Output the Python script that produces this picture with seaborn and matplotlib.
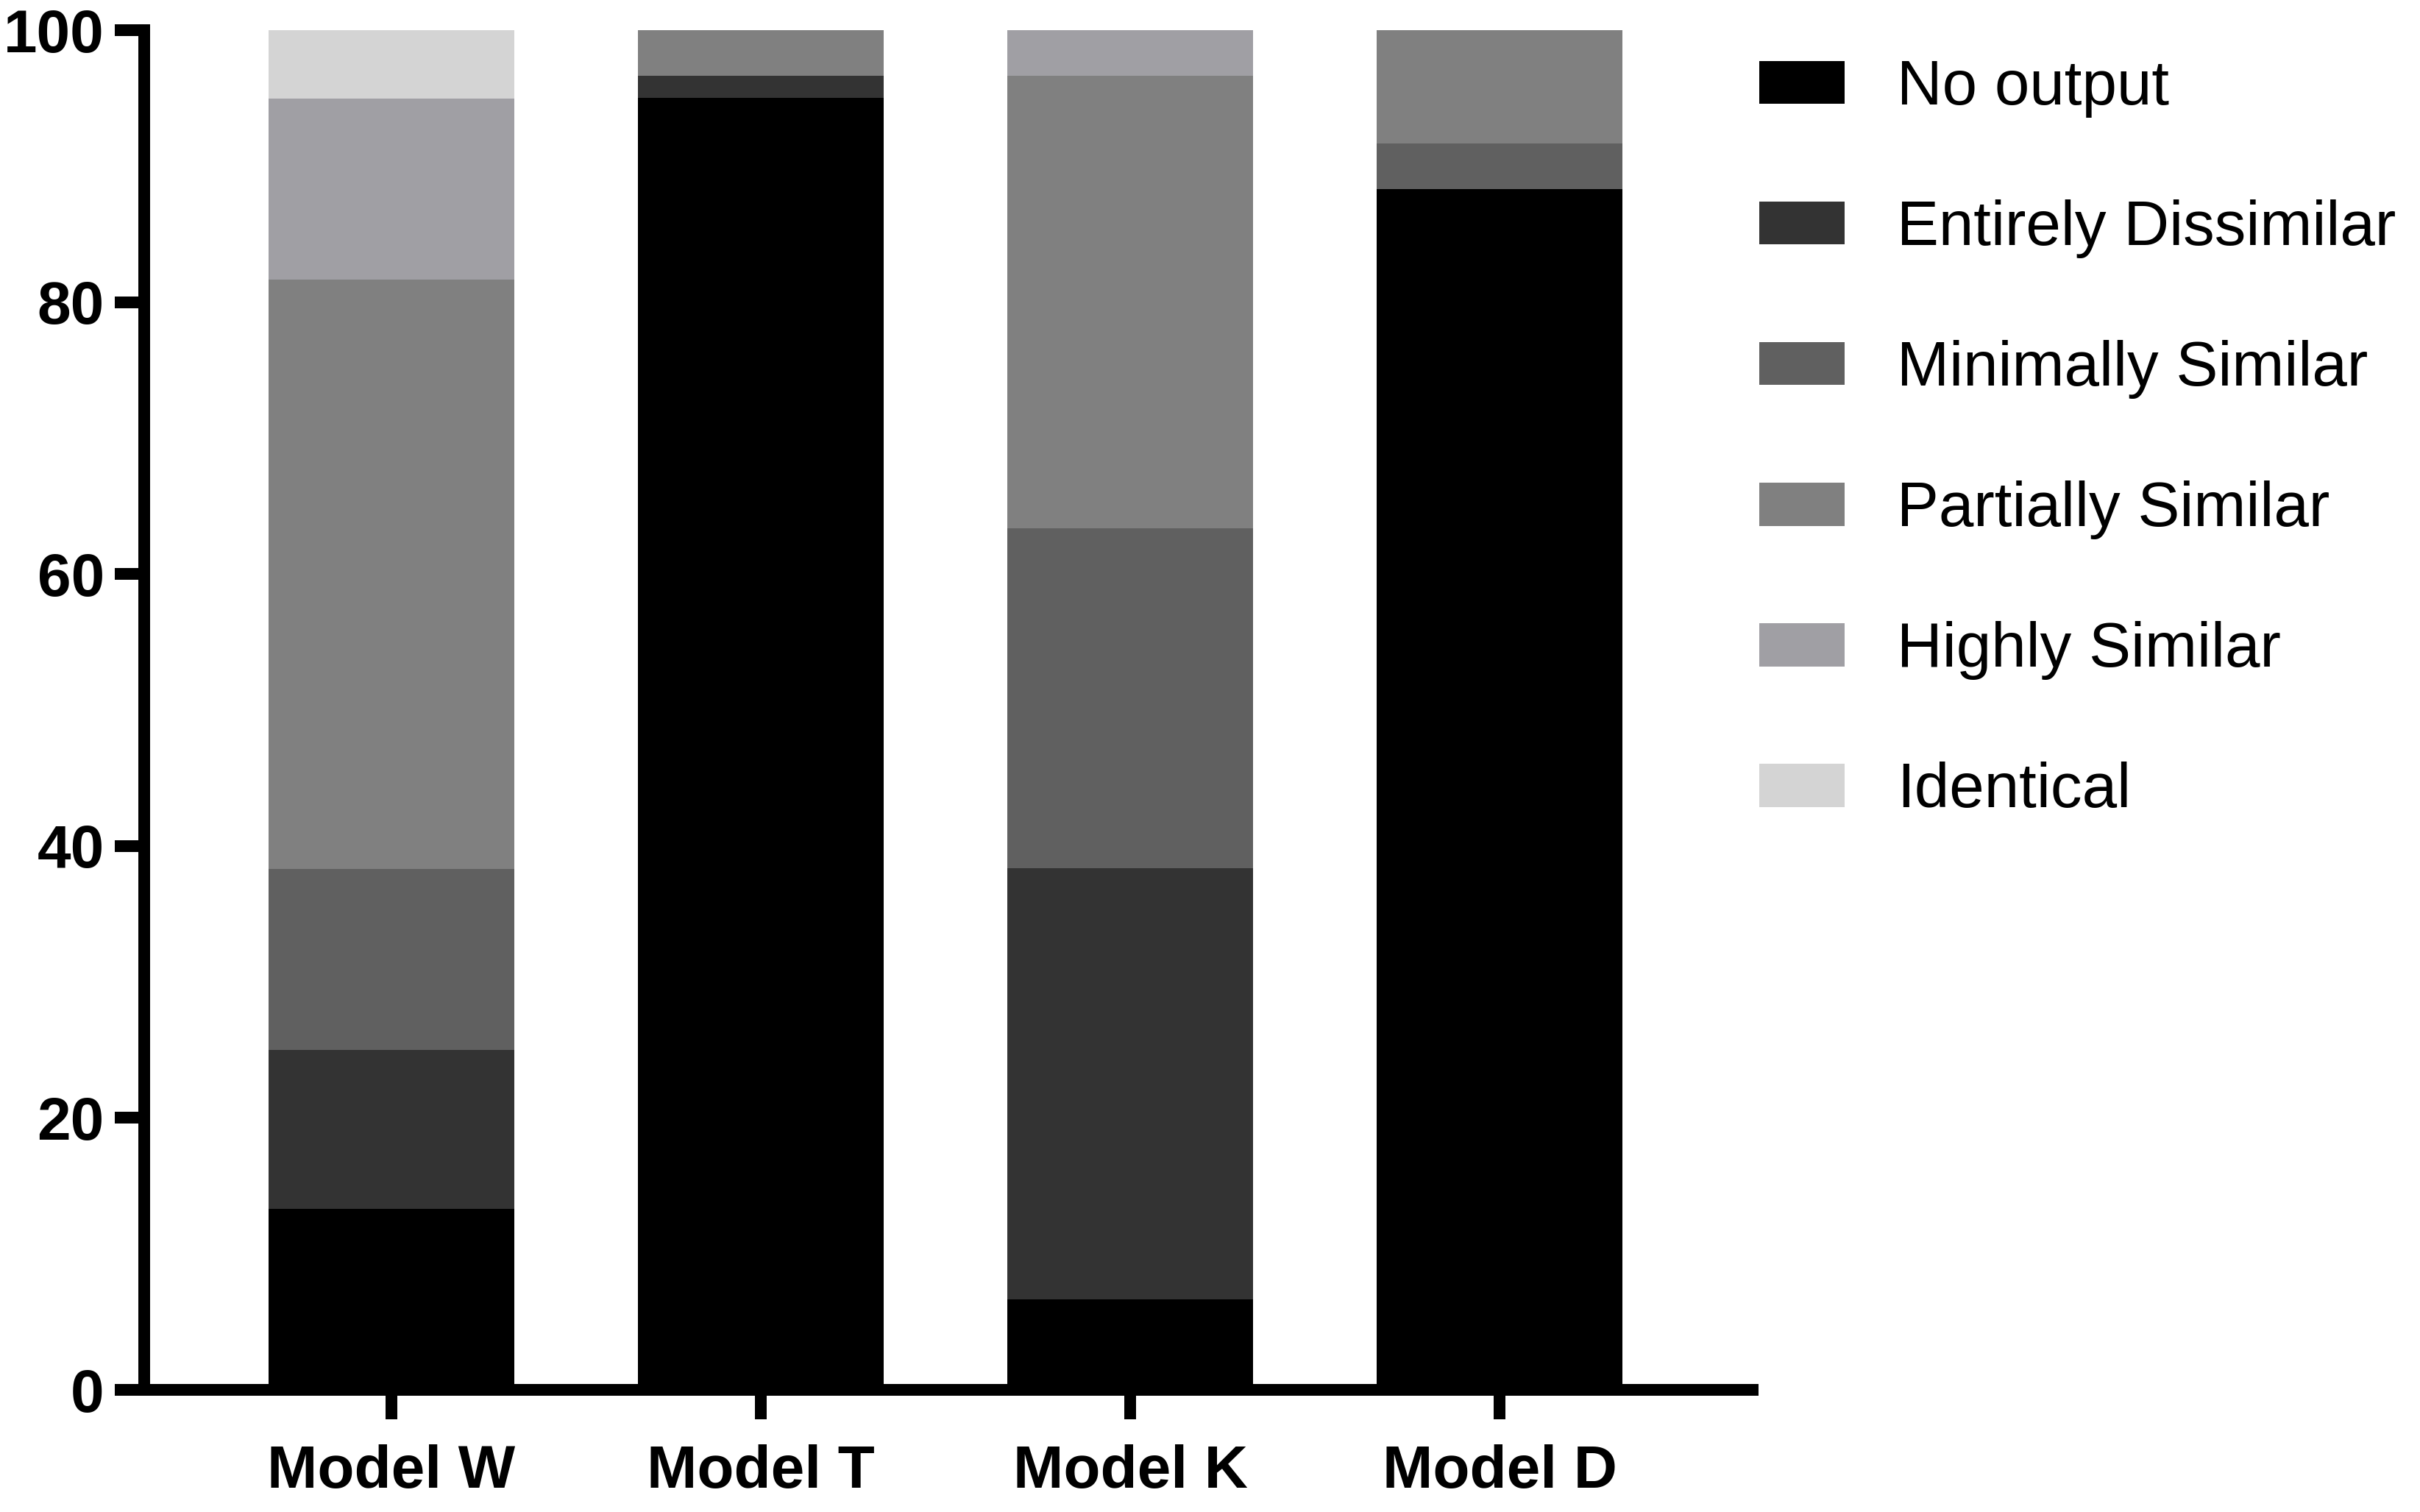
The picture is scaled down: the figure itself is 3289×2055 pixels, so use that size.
import matplotlib
matplotlib.use("Agg")
import matplotlib.pyplot as plt
import seaborn as sns
import pandas as pd
import numpy as np
from matplotlib.patches import Patch

models = ["Model W", "Model T", "Model K", "Model D"]
categories = ["No output", "Entirely Dissimilar", "Minimally Similar",
              "Partially Similar", "Highly Similar", "Identical"]
no_output = [13.33, 95.0, 6.67, 88.33]
entirely_dissimilar = [11.67, 1.67, 31.67, 0.0]
minimally_similar = [13.33, 0.0, 25.0, 3.33]
partially_similar = [43.33, 3.33, 33.33, 8.33]
highly_similar = [13.33, 0.0, 3.33, 0.0]
identical = [5.0, 0.0, 0.0, 0.0]
colors = ["#000000", "#333333", "#606060", "#808080", "#a09fa4", "#d4d4d4"]

series = [no_output, entirely_dissimilar, minimally_similar,
          partially_similar, highly_similar, identical]

sns.set_theme(style="ticks")
plt.rcParams["font.family"] = ["Liberation Sans", "DejaVu Sans"]
plt.rcParams["text.color"] = "black"

fig = plt.figure(figsize=(32.89, 20.55), dpi=100)
ax = fig.add_axes([196 / 3289, (2055 - 1889) / 2055,
                   (2382 - 196) / 3289, (1889 - 41) / 2055])

cum = np.cumsum(np.array(series), axis=0)
for i in range(len(categories) - 1, -1, -1):
    df = pd.DataFrame({"model": models, "value": cum[i]})
    sns.barplot(data=df, x="model", y="value", color=colors[i],
                width=0.665, linewidth=0, saturation=1, ax=ax,
                zorder=10 - i, errorbar=None)

ax.set_xlim(-0.669, 3.685)
ax.set_ylim(0, 100)
ax.set_yticks([0, 20, 40, 60, 80, 100])
ax.set_xlabel("")
ax.set_ylabel("")
sns.despine(ax=ax)
for s in ["left", "bottom"]:
    ax.spines[s].set_linewidth(11.5)
    ax.spines[s].set_color("black")
    ax.spines[s].set_zorder(20)
ax.tick_params(axis="both", which="major", length=29, width=11.5,
               color="black", labelsize=59, direction="out")
ax.tick_params(axis="y", pad=10)
ax.tick_params(axis="x", pad=24)
for lab in ax.get_xticklabels() + ax.get_yticklabels():
    lab.set_fontweight("bold")
    lab.set_color("black")

handles = [Patch(facecolor=c, edgecolor="none", label=l)
           for c, l in zip(colors, categories)]
leg = fig.legend(handles=handles, loc="upper left",
                 bbox_to_anchor=(2391 / 3289, 1 - 80 / 2055),
                 frameon=False, fontsize=61.5, handlelength=1.36,
                 handleheight=0.68, handletextpad=0.83, labelspacing=1.30,
                 borderpad=0, borderaxespad=0)
for t in leg.get_texts():
    t.set_color("black")

fig.savefig("out.png", dpi=100)
